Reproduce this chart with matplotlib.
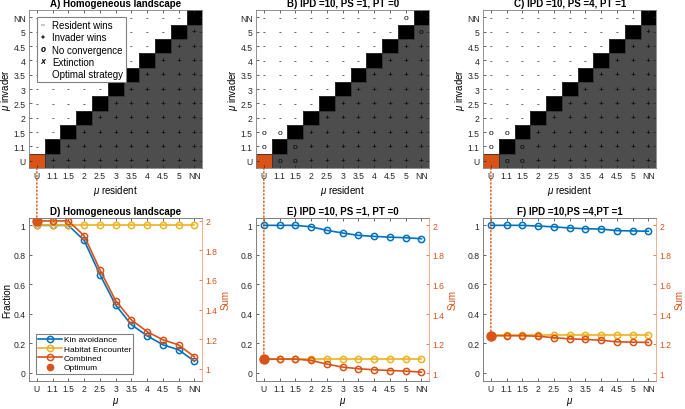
import numpy as np
import matplotlib
matplotlib.use("Agg")
import matplotlib.pyplot as plt
from matplotlib.colors import ListedColormap
from matplotlib.lines import Line2D
from matplotlib.patches import ConnectionPatch

plt.rcParams['font.family'] = ['Liberation Sans', 'DejaVu Sans']
plt.rcParams['mathtext.fontset'] = 'custom'
plt.rcParams['mathtext.it'] = 'Liberation Sans:italic'
plt.rcParams['mathtext.rm'] = 'Liberation Sans'
plt.rcParams['font.size'] = 6.2

BLUE = '#0072BD'
ORANGE = '#D95319'
YELLOW = '#EDB120'
GRAY = '#4d4d4d'
AXCOL = '#262626'

mu_labels = ['U', '1.1', '1.5', '2', '2.5', '3', '3.5', '4', '4.5', '5', 'NN']

titles_top = ['A) Homogeneous landscape', 'B) IPD =10, PS =1, PT =0', 'C) IPD =10, PS =4, PT =1']
titles_bot = ['D) Homogeneous landscape', 'E) IPD =10, PS =1, PT =0', 'F) IPD =10,PS =4,PT =1']

# outcome grids, rows from invader U (bottom) to NN (top), columns resident U..NN
# '-' resident wins, '+' invader wins, 'o' no convergence, 'B' same strategy, '*' optimal
outcome_A = [
    "*++++++++++",
    "-B+++++++++",
    "--B++++++++",
    "---B+++++++",
    "----B++++++",
    "-----B+++++",
    "------B++++",
    "-------B+++",
    "--------B++",
    "---------B+",
    "----------B",
]
outcome_B = [
    "*oo++++++++",
    "oBo++++++++",
    "ooB++++++++",
    "---B+++++++",
    "----B++++++",
    "-----B+++++",
    "------B++++",
    "-------B+++",
    "--------B++",
    "---------Bo",
    "---------oB",
]
outcome_C = [
    "*oo++++++++",
    "oBo++++++++",
    "ooB++++++++",
    "---B+++++++",
    "----B++++++",
    "-----B+++++",
    "------B++++",
    "-------B+++",
    "--------B++",
    "---------B+",
    "----------B",
]

kin_D = [1.0, 1.0, 1.0, 0.898, 0.666, 0.459, 0.325, 0.25, 0.189, 0.155, 0.077]
hab_D = [1.0] * 11
comb_D = [2.0, 2.0, 2.0, 1.90, 1.67, 1.46, 1.33, 1.25, 1.195, 1.16, 1.08]

kin_E = [1.0, 1.0, 1.0, 0.99, 0.966, 0.948, 0.932, 0.925, 0.92, 0.916, 0.909]
hab_E = [0.095] * 11
comb_E = [1.095, 1.095, 1.095, 1.086, 1.061, 1.041, 1.03, 1.023, 1.018, 1.014, 1.007]

kin_F = [1.0, 1.0, 1.0, 0.995, 0.99, 0.982, 0.977, 0.975, 0.964, 0.962, 0.96]
hab_F = [0.253] * 11
comb_F = [1.253, 1.253, 1.253, 1.25, 1.24, 1.232, 1.228, 1.223, 1.212, 1.21, 1.208]

right_lims = [(0.916, 2.02), (0.947, 2.05), (0.947, 2.05)]

fig = plt.figure(figsize=(6.85, 4.10), dpi=100)

lefts = [0.0423, 0.3737, 0.7051]
w = 0.253
top_axes = []
cmap = ListedColormap(['white', GRAY, 'black', ORANGE])

for k, (grid, title) in enumerate(zip([outcome_A, outcome_B, outcome_C], titles_top)):
    ax = fig.add_axes([lefts[k], 0.5878, w, 0.385])
    n = len(grid)
    codes = np.zeros((n, n))
    for i, row in enumerate(grid):
        for j, c in enumerate(row):
            if c == 'B':
                codes[i, j] = 2
            elif c == '*':
                codes[i, j] = 3
            elif j > i:
                codes[i, j] = 1
    ax.pcolormesh(np.arange(n + 1) - 0.5, np.arange(n + 1) - 0.5, codes,
                  cmap=cmap, vmin=-0.5, vmax=3.5)
    for i, row in enumerate(grid):
        for j, c in enumerate(row):
            if c in '-+ox':
                ax.text(j, i, c, ha='center', va='center', fontsize=6, color='black')
            elif c in 'B*':
                ax.add_patch(plt.Rectangle((j - 0.5, i - 0.5), 1, 1, fill=False,
                                           edgecolor='#333333', lw=0.6))
    ax.set_xlim(-0.5, n - 0.5)
    ax.set_ylim(-0.5, n - 0.5)
    ax.set_xticks(range(n))
    ax.set_xticklabels(mu_labels)
    ax.set_yticks(range(n))
    ax.set_yticklabels(mu_labels)
    ax.tick_params(direction='in', length=2.5, width=0.5, top=True, right=True,
                   pad=2.5, colors=AXCOL)
    for s in ax.spines.values():
        s.set_color('#808080')
        s.set_linewidth(0.6)
    ax.set_title(title, fontsize=7, fontweight='bold', pad=3)
    ax.set_xlabel(r'$\mu$ resident', fontsize=7, labelpad=2)
    ax.set_ylabel(r'$\mu$ invader', fontsize=7, labelpad=0)
    top_axes.append(ax)

    if k == 0:
        handles = [Line2D([], [], ls='none', marker='$-$', color='k', ms=3.2, mew=0.3),
                   Line2D([], [], ls='none', marker='$+$', color='k', ms=3.5, mew=0.3),
                   Line2D([], [], ls='none', marker='$o$', color='k', ms=3.2, mew=0.3),
                   Line2D([], [], ls='none', marker='$x$', color='k', ms=3.2, mew=0.3),
                   Line2D([], [], ls='none', marker='none')]
        names = ['Resident wins', 'Invader wins', 'No convergence', 'Extinction', 'Optimal strategy']
        leg = ax.legend(handles, names, loc='upper left', bbox_to_anchor=(0.02, 0.985),
                        fontsize=7, frameon=True, fancybox=False, handlelength=0.6,
                        handletextpad=0.6, borderpad=0.3, labelspacing=0.22, framealpha=1)
        leg.get_frame().set_edgecolor('#808080')
        leg.get_frame().set_linewidth(0.8)

x = np.arange(len(mu_labels))
data = [(kin_D, hab_D, comb_D), (kin_E, hab_E, comb_E), (kin_F, hab_F, comb_F)]

for k, ((kin, hab, comb), title) in enumerate(zip(data, titles_bot)):
    ax = fig.add_axes([lefts[k], 0.0683, w, 0.3976])
    ax.plot(x, kin, '-o', color=BLUE, lw=1.2, ms=4.5, mfc='none', mew=1.1)
    ax.plot(x, hab, '-o', color=YELLOW, lw=1.2, ms=4.5, mfc='none', mew=1.1)
    ax.set_xlim(-0.5, 10.5)
    ax.set_ylim(-0.057, 1.05)
    ax.set_yticks([0, 0.2, 0.4, 0.6, 0.8, 1])
    ax.set_yticklabels(['0', '0.2', '0.4', '0.6', '0.8', '1'])
    ax.set_xticks(x)
    ax.set_xticklabels(mu_labels)
    ax.tick_params(direction='in', length=2.5, width=0.5, top=True, colors=AXCOL, pad=2.5)
    ax.set_xlabel(r'$\mu$', fontsize=7, labelpad=1)
    if k == 0:
        ax.set_ylabel('Fraction', fontsize=7, labelpad=1)
    ax.set_title(title, fontsize=7, fontweight='bold', pad=3)

    ax2 = ax.twinx()
    ax2.plot(x, comb, '-o', color=ORANGE, lw=1.2, ms=4.5, mfc='none', mew=1.1)
    ax2.plot(x[0], comb[0], 'o', color=ORANGE, ms=6.5)
    ax2.set_ylim(*right_lims[k])
    ax2.set_yticks([1, 1.2, 1.4, 1.6, 1.8, 2])
    ax2.set_yticklabels(['1', '1.2', '1.4', '1.6', '1.8', '2'])
    ax2.tick_params(direction='in', length=2.5, width=0.5, colors=ORANGE, pad=2.5)
    ax2.set_ylabel('Sum', color=ORANGE, fontsize=7, labelpad=2)
    for name, s in ax2.spines.items():
        s.set_linewidth(0.6)
        s.set_color('#808080')
    ax2.spines['right'].set_color('#f0a080')
    ax.spines['right'].set_visible(False)
    for s in ax.spines.values():
        s.set_linewidth(0.6)
        s.set_color('#808080')

    if k == 0:
        handles = [Line2D([], [], color=BLUE, marker='o', mfc='none', lw=1.2, ms=4.5, mew=1.1),
                   Line2D([], [], color=YELLOW, marker='o', mfc='none', lw=1.2, ms=4.5, mew=1.1),
                   Line2D([], [], color=ORANGE, marker='o', mfc='none', lw=1.2, ms=4.5, mew=1.1),
                   Line2D([], [], color=ORANGE, marker='o', ls='none', ms=4.5)]
        names = ['Kin avoidance', 'Habitat Encounter', 'Combined', 'Optimum']
        leg = ax2.legend(handles, names, loc='lower left', bbox_to_anchor=(0.015, 0.02),
                         fontsize=6, frameon=True, fancybox=False, handlelength=2.9,
                         handletextpad=0.2, borderpad=0.25, labelspacing=0.18, framealpha=1)
        leg.get_frame().set_edgecolor('#808080')
        leg.get_frame().set_linewidth(0.8)

    con = ConnectionPatch(xyA=(0, -0.5), coordsA=top_axes[k].transData,
                          xyB=(0, comb[0]), coordsB=ax2.transData,
                          color=ORANGE, ls=':', lw=1.0)
    fig.add_artist(con)

fig.savefig('out.png', dpi=100)
